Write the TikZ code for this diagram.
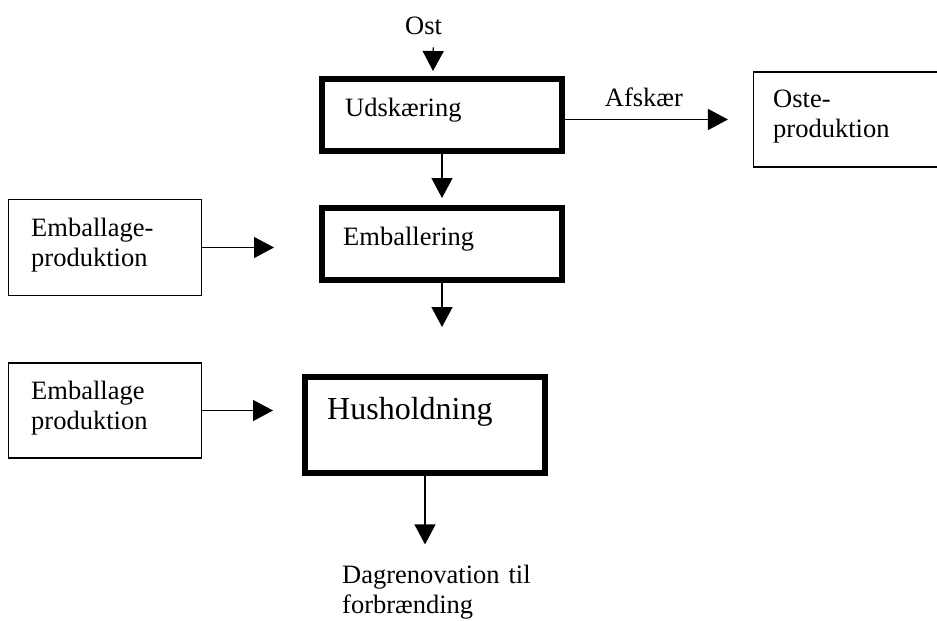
\documentclass[tikz,border=0pt]{standalone}
\usepackage{fontspec}
\setmainfont{Liberation Serif}
\usetikzlibrary{arrows.meta}
\tikzset{
  thinbox/.style={draw, line width=1.3pt, inner sep=0pt},
  thickbox/.style={draw, line width=6pt, inner sep=0pt},
  txt/.style={inner sep=0pt, anchor=base west, font=\fontsize{26.5}{30.5}\selectfont},
  txtml/.style={txt, text width=220pt, align=left},
  arr/.style={line width=1.3pt, -{Triangle[length=20pt,width=21pt]}}
}
\begin{document}
\begin{tikzpicture}[x=1pt,y=-1pt]
  \useasboundingbox (0,0) rectangle (937,621);
  \node[thickbox, minimum width=240pt, minimum height=72pt] (udsk) at (442,115) {};
  \node[thickbox, minimum width=240pt, minimum height=72pt] (emb) at (442,244) {};
  \node[thickbox, minimum width=240pt, minimum height=96pt] (hus) at (425,425) {};
  \node[thinbox, minimum width=192.8pt, minimum height=95.8pt] (embprod) at (105,247.5) {};
  \node[thinbox, minimum width=192.8pt, minimum height=95pt] (embprodb) at (105,410.5) {};
  \node[thinbox, minimum width=191.4pt, minimum height=95pt] (oste) at (849.3,119.5) {};
  \node[txt] (ost) at (405,34) {Ost};
  \node[txt] (udsktxt) at (345,116) {Udskæring};
  \node[txt] (embtxt) at (343,245) {Emballering};
  \node[txt, font=\fontsize{32}{36}\selectfont] (hustxt) at (327,419) {Husholdning};
  \node[txtml] (ostetxt) at (773,107) {Oste-\\produktion};
  \node[txtml] (embprodtxt) at (31,236) {Emballage-\\produktion};
  \node[txtml] (embprodbtxt) at (31,399) {Emballage\\produktion};
  \node[txtml] (dagren) at (342,583) {Dagrenovation til\\forbrænding};
  \coordinate (embout) at (442,327);
  \draw[arr] ([xshift=9.6pt,yshift=-13pt]ost.south) -- ([xshift=-9pt,yshift=5pt]udsk.north);
  \draw[arr, shorten >=25pt] (oste.west -| udsk.east) -- node[txt, anchor=south, pos=0.42, above=12pt] (afsk) {Afskær} (oste.west);
  \draw[arr, shorten >=7pt] (udsk.south) -- (emb.north);
  \draw[arr] (emb.south) -- (embout);
  \draw[arr, shorten >=45pt] (embprod.east) -- (embprod.east -| emb.west);
  \draw[arr, shorten >=29pt] (embprodb.east) -- (embprodb.east -| hus.west);
  \draw[arr, shorten >=20pt] (hus.south) -- (hus.south |- dagren.north);
\end{tikzpicture}
\end{document}
